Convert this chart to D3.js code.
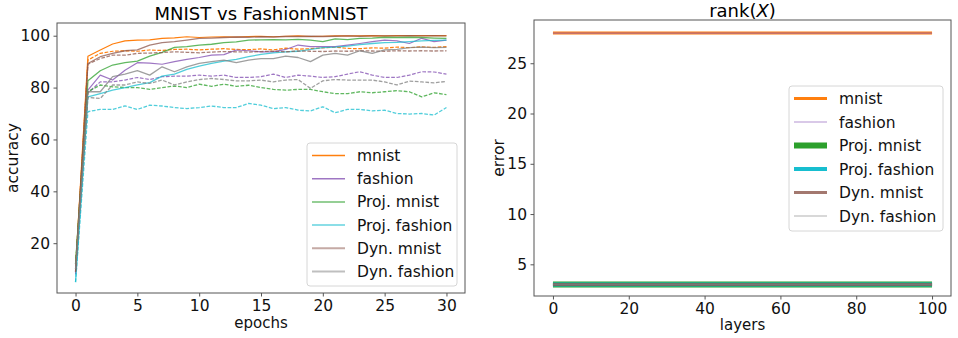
<!DOCTYPE html>
<html>
<head>
<meta charset="utf-8">
<script src="https://cdn.jsdelivr.net/npm/d3@7"></script>
<style>
  body { margin: 0; background: #fff; }
  svg { display: block; font-family: "DejaVu Sans", sans-serif; }
</style>
</head>
<body>
<div id="chart"></div>
<script>
// ---- data ----
const epochs = d3.range(0, 31);

const mnistTrain = [10, 92.1, 94.5, 96.8, 98, 98.3, 98.4, 99, 99.2, 99.6, 99.3, 99.5, 99.6, 99.5, 99.7, 99.8, 99.6, 99.8, 99.9, 99.7, 99.8, 99.9, 99.9, 99.9, 100, 99.9, 100, 100, 100, 100, 100];
const mnistTest = [10, 90.6, 93.2, 94, 94.2, 94, 94.5, 94.3, 94.7, 94.8, 94.5, 94.8, 95, 94.7, 94.6, 94.9, 94.5, 95.2, 94.8, 95.0, 95.3, 95.6, 95.1, 95.0, 95.3, 95.2, 95.6, 95.4, 95.7, 95.5, 95.8];
const fashionTrain = [8, 79, 84.8, 82.9, 86.7, 89.6, 89.4, 89, 90, 90.9, 91.6, 92.5, 92.7, 94.5, 94.2, 93.8, 93.8, 94.7, 96.4, 95.8, 95.8, 95.8, 96.4, 97, 97.7, 98.3, 98, 97, 99, 97.7, 98.3];
const fashionTest = [8, 78, 82.2, 82.2, 82.9, 83.9, 83.1, 84.2, 84.4, 84.4, 84.8, 84.4, 84.8, 83.9, 83.9, 84.2, 85.2, 83.9, 84.8, 84.4, 83.9, 84.2, 85.2, 86.1, 84.8, 83.9, 83.9, 84.8, 86.1, 86.0, 85.2];
const projMnistTrain = [12, 82.6, 86.5, 88.7, 89.6, 90.2, 92.1, 93.6, 95.5, 95.8, 96.4, 96.7, 97.3, 97.6, 98.3, 98.4, 98.5, 98.4, 98.6, 98.3, 97.7, 98.8, 98.5, 99, 99.1, 99.4, 99.3, 99.4, 99.3, 99.1, 99];
const projMnistTest = [12, 78.4, 81, 80.3, 80, 80, 79.3, 80, 80.6, 80, 81.3, 80.5, 81.3, 80.5, 80.9, 80, 79.3, 79, 79.3, 79.3, 78.4, 77.7, 77.7, 78.4, 78, 78.4, 78.8, 78.4, 76.4, 78, 77.3];
const projFashionTrain = [5, 76.4, 77.7, 79, 80, 81, 81.9, 84.4, 85.2, 87, 88.3, 89.3, 90.2, 90.9, 91.9, 92.8, 93.4, 93.8, 94, 94.7, 95.4, 95.6, 96, 96.6, 97, 97.3, 97.4, 97.7, 98, 98.2, 98.3];
const projFashionTest = [5, 70.7, 71.6, 71.6, 72.9, 71.6, 73.2, 72.9, 72.3, 71.9, 72.3, 72.9, 72.3, 72.3, 73.9, 73.2, 71.9, 72.3, 71.3, 71.0, 72.6, 70.3, 71.6, 71.6, 71.0, 71.3, 70.0, 69.8, 70.0, 69.4, 72.3];
const dynMnistTrain = [9, 89.3, 91.9, 93.2, 94.2, 94.5, 96.4, 97.3, 97.7, 98.3, 99, 99.1, 99.3, 99.5, 99.4, 99.6, 99.5, 99.7, 99.7, 99.8, 99.7, 99.8, 99.9, 99.8, 99.9, 99.9, 99.9, 100, 99.9, 100, 99.9];
const dynMnistTest = [9, 89, 91.2, 92.5, 92.5, 93.2, 93.3, 93.5, 93.8, 93.6, 93.4, 93.7, 93.9, 93.8, 93.7, 93.9, 94.0, 93.8, 94.1, 94.0, 93.9, 94.1, 94.0, 94.2, 94.1, 94.0, 94.2, 94.1, 94.2, 94.1, 94.2];
const dynFashionTrain = [10, 78.4, 78.4, 84.2, 85.2, 86.5, 84.8, 88, 86.1, 88, 89.3, 90, 90.6, 89.6, 90.6, 91.2, 91.2, 92.1, 91.6, 90, 92.5, 93.2, 92.5, 94.2, 93.2, 94.5, 94.7, 95.4, 95.6, 95.4, 95.5];
const dynFashionTest = [10, 76.2, 75.8, 81, 81, 82.2, 81.6, 82.9, 81, 82.2, 83.1, 83.5, 83.1, 82.6, 82.6, 82.9, 82.2, 82.9, 83.1, 79.7, 82.6, 83.1, 82.9, 82.9, 82.9, 82.2, 81, 82.5, 82.2, 81.8, 82.4];

const layers = [0, 100];
const rankMnist = [28, 28];
const rankFashion = [28, 28];
const rankProjMnist = [3, 3];
const rankProjFashion = [3, 3];
const rankDynMnist = [3, 3];
const rankDynFashion = [3, 3];

const labels = ['mnist', 'fashion', 'Proj. mnist', 'Proj. fashion', 'Dyn. mnist', 'Dyn. fashion'];
const colors = ['#ff7f0e', '#9467bd', '#2ca02c', '#17becf', '#8c564b', '#7f7f7f'];
const accTicks = [20, 40, 60, 80, 100];
const epochTicks = [0, 5, 10, 15, 20, 25, 30];
const rankTicks = [5, 10, 15, 20, 25];
const layerTicks = [0, 20, 40, 60, 80, 100];

// ---- drawing ----
const W = 958, H = 338;
const svg = d3.select('#chart').append('svg').attr('width', W).attr('height', H);

function panel(box, xDom, yDom, xTicks, yTicks) {
  const x = d3.scaleLinear().domain(xDom).range([box.x0, box.x1]);
  const y = d3.scaleLinear().domain(yDom).range([box.y1, box.y0]);
  const g = svg.append('g');
  const clip = 'clip' + Math.round(box.x0);
  svg.append('clipPath').attr('id', clip).append('rect')
    .attr('x', box.x0).attr('y', box.y0)
    .attr('width', box.x1 - box.x0).attr('height', box.y1 - box.y0);

  const xa = g.append('g').attr('transform', `translate(0,${box.y1})`)
    .call(d3.axisBottom(x).tickValues(xTicks).tickSize(3.5).tickPadding(3).tickFormat(d3.format('d')));
  const ya = g.append('g').attr('transform', `translate(${box.x0},0)`)
    .call(d3.axisLeft(y).tickValues(yTicks).tickSize(3.5).tickPadding(3.5).tickFormat(d3.format('d')));
  [xa, ya].forEach(a => {
    a.select('.domain').remove();
    a.selectAll('line').attr('stroke', '#555');
    a.selectAll('text').attr('fill', '#111').style('font-size', '15.5px').style('font-family', '"DejaVu Sans"');
  });

  const plot = g.append('g').attr('clip-path', `url(#${clip})`);
  g.append('rect').attr('x', box.x0).attr('y', box.y0)
    .attr('width', box.x1 - box.x0).attr('height', box.y1 - box.y0)
    .attr('fill', 'none').attr('stroke', '#555').attr('stroke-width', 1);
  return { x, y, plot, g };
}

function drawLine(p, xs, ys, st) {
  const line = d3.line().x((d, i) => p.x(xs[i])).y(d => p.y(d));
  p.plot.append('path').datum(ys)
    .attr('d', line)
    .attr('fill', 'none')
    .attr('stroke', st.color)
    .attr('stroke-width', st.w)
    .attr('stroke-opacity', st.a)
    .attr('stroke-dasharray', st.dash || null)
    .attr('stroke-linejoin', 'round');
}

function legend(lx, ly, lw, lh, step, styles) {
  const lg = svg.append('g');
  lg.append('rect').attr('x', lx).attr('y', ly).attr('width', lw).attr('height', lh)
    .attr('rx', 3).attr('fill', '#fff').attr('fill-opacity', 0.8)
    .attr('stroke', '#d6d6d6').attr('stroke-width', 1);
  labels.forEach((t, i) => {
    const cy = ly + 12.5 + i * step;
    lg.append('line').attr('x1', lx + 5).attr('x2', lx + 38).attr('y1', cy).attr('y2', cy)
      .attr('stroke', styles[i].color).attr('stroke-width', styles[i].w).attr('stroke-opacity', styles[i].a);
    lg.append('text').attr('x', lx + 50).attr('y', cy + 5.5).text(t)
      .attr('fill', '#111').style('font-size', '15.5px');
  });
}

// left panel: accuracy
const left = panel({ x0: 57, x1: 465, y0: 23, y1: 293 }, [-1.5, 31.5], [0.8, 104.9], epochTicks, accTicks);
const leftStyles = [
  { color: colors[0], w: 1.2, a: 1 },
  { color: colors[1], w: 1.2, a: 0.9 },
  { color: colors[2], w: 1.3, a: 0.75 },
  { color: colors[3], w: 1.3, a: 0.75 },
  { color: colors[4], w: 1.3, a: 0.75 },
  { color: colors[5], w: 1.3, a: 0.75 }
];
const leftTrain = [mnistTrain, fashionTrain, projMnistTrain, projFashionTrain, dynMnistTrain, dynFashionTrain];
const leftTest = [mnistTest, fashionTest, projMnistTest, projFashionTest, dynMnistTest, dynFashionTest];
leftTrain.forEach((s, i) => {
  drawLine(left, epochs, s, leftStyles[i]);
  drawLine(left, epochs, leftTest[i], Object.assign({}, leftStyles[i], { dash: '3.7,1.6' }));
});

svg.append('text').attr('x', 261).attr('y', 19.5).attr('text-anchor', 'middle')
  .style('font-size', '18px').attr('fill', '#000').text('MNIST vs FashionMNIST');
svg.append('text').attr('x', 261).attr('y', 328).attr('text-anchor', 'middle')
  .style('font-size', '15px').attr('fill', '#111').text('epochs');
svg.append('text').attr('transform', 'translate(18,158) rotate(-90)').attr('text-anchor', 'middle')
  .style('font-size', '15.5px').attr('fill', '#111').text('accuracy');

legend(307, 143, 150, 143, 23.2, [
  { color: colors[0], w: 1.6, a: 1 },
  { color: colors[1], w: 1.6, a: 0.9 },
  { color: colors[2], w: 2, a: 0.5 },
  { color: colors[3], w: 2, a: 0.5 },
  { color: colors[4], w: 2, a: 0.5 },
  { color: colors[5], w: 2, a: 0.5 }
]);

// right panel: rank
const right = panel({ x0: 534, x1: 951, y0: 20, y1: 296 }, [-5, 105], [1.85, 29.3], layerTicks, rankTicks);
const rightStyles = [
  { color: colors[0], w: 3, a: 1 },
  { color: colors[1], w: 1.2, a: 0.7 },
  { color: colors[2], w: 6, a: 1 },
  { color: colors[3], w: 4, a: 1 },
  { color: colors[4], w: 3, a: 0.8 },
  { color: colors[5], w: 1.2, a: 0.6 }
];
[rankMnist, rankFashion, rankProjMnist, rankProjFashion, rankDynMnist, rankDynFashion]
  .forEach((s, i) => drawLine(right, layers, s, rightStyles[i]));

const rt = svg.append('text').attr('x', 742.5).attr('y', 16.5).attr('text-anchor', 'middle')
  .style('font-size', '18px').attr('fill', '#000');
rt.append('tspan').text('rank(');
rt.append('tspan').style('font-style', 'italic').text('X');
rt.append('tspan').text(')');
svg.append('text').attr('x', 742.5).attr('y', 330).attr('text-anchor', 'middle')
  .style('font-size', '15px').attr('fill', '#111').text('layers');
svg.append('text').attr('transform', 'translate(504,158) rotate(-90)').attr('text-anchor', 'middle')
  .style('font-size', '15.5px').attr('fill', '#111').text('error');

legend(789, 86, 154, 145, 23.5, rightStyles);
</script>
</body>
</html>
